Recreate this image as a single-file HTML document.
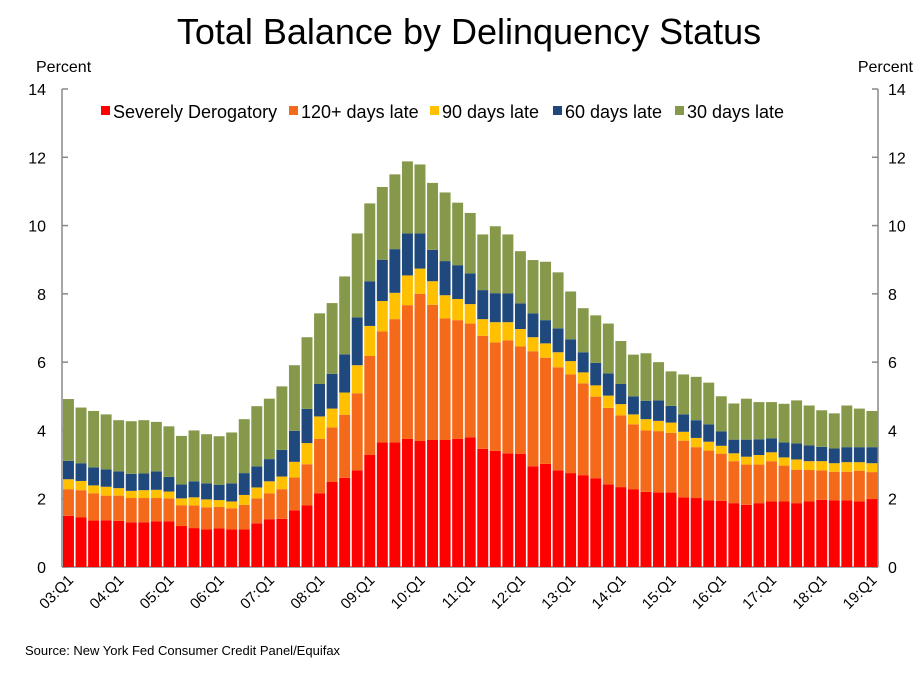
<!DOCTYPE html>
<html><head><meta charset="utf-8"><style>
body{margin:0;background:#fff;}
svg{display:block;font-family:"Liberation Sans",Arial,sans-serif;}
</style></head><body>
<svg id="chart" width="924" height="673" viewBox="0 0 924 673" xmlns="http://www.w3.org/2000/svg">
<text x="469" y="44" font-size="36" text-anchor="middle">Total Balance by Delinquency Status</text>
<text x="36" y="72" font-size="16">Percent</text>
<text x="913" y="72" font-size="16" text-anchor="end">Percent</text>
<g id="axes"></g>
<g id="bars"></g>
<g id="legend"></g>
<text x="25" y="655" font-size="13">Source: New York Fed Consumer Credit Panel/Equifax</text>
</svg>
<script>
const quarters = [];
for (let y = 3; y <= 19; y++) { for (let q = 1; q <= 4; q++) { if (y === 19 && q > 1) break; quarters.push((y<10?'0':'')+y+':Q'+q); } }
const severe = [1.50,1.45,1.36,1.37,1.35,1.31,1.31,1.34,1.34,1.20,1.14,1.10,1.13,1.10,1.10,1.28,1.40,1.41,1.66,1.81,2.16,2.49,2.61,2.83,3.28,3.65,3.65,3.75,3.69,3.72,3.72,3.75,3.80,3.46,3.40,3.33,3.31,2.95,3.02,2.83,2.75,2.69,2.60,2.42,2.34,2.28,2.20,2.18,2.18,2.04,2.02,1.95,1.94,1.87,1.82,1.87,1.92,1.92,1.87,1.92,1.97,1.95,1.95,1.92,1.99];
const late120 = [0.78,0.80,0.80,0.72,0.74,0.71,0.71,0.68,0.67,0.61,0.66,0.65,0.63,0.62,0.72,0.73,0.76,0.87,0.96,1.20,1.59,1.60,1.85,2.26,2.90,3.25,3.61,3.92,4.31,3.96,3.56,3.48,3.33,3.31,3.18,3.31,3.15,3.37,3.11,3.02,2.89,2.69,2.39,2.24,2.10,1.90,1.80,1.80,1.75,1.66,1.49,1.46,1.38,1.23,1.18,1.13,1.18,1.05,0.98,0.92,0.86,0.84,0.84,0.90,0.79];
const late90 = [0.29,0.27,0.23,0.26,0.22,0.21,0.23,0.24,0.20,0.20,0.24,0.23,0.20,0.20,0.29,0.32,0.35,0.37,0.46,0.62,0.66,0.55,0.65,0.82,0.88,0.89,0.77,0.87,0.74,0.69,0.68,0.62,0.57,0.49,0.59,0.53,0.51,0.41,0.42,0.44,0.39,0.32,0.33,0.36,0.33,0.29,0.33,0.30,0.30,0.26,0.27,0.26,0.23,0.23,0.23,0.28,0.26,0.24,0.30,0.26,0.27,0.25,0.28,0.25,0.26];
const late60 = [0.54,0.52,0.53,0.51,0.49,0.50,0.49,0.54,0.43,0.41,0.47,0.47,0.45,0.53,0.64,0.62,0.65,0.78,0.91,1.00,0.95,1.02,1.12,1.40,1.31,1.21,1.28,1.23,1.03,0.92,1.00,0.99,0.90,0.85,0.85,0.84,0.75,0.70,0.68,0.70,0.64,0.59,0.66,0.65,0.59,0.53,0.54,0.60,0.49,0.51,0.52,0.51,0.42,0.40,0.50,0.46,0.41,0.44,0.47,0.46,0.42,0.43,0.44,0.44,0.47];
const late30 = [1.81,1.63,1.65,1.61,1.50,1.54,1.56,1.45,1.48,1.42,1.49,1.44,1.42,1.49,1.58,1.76,1.77,1.86,1.92,2.10,2.07,2.07,2.28,2.46,2.28,2.13,2.19,2.11,2.02,1.96,2.01,1.83,1.77,1.63,1.96,1.73,1.53,1.56,1.71,1.64,1.40,1.29,1.39,1.46,1.26,1.22,1.39,1.12,1.01,1.17,1.27,1.22,1.03,1.06,1.20,1.09,1.06,1.13,1.26,1.17,1.07,1.03,1.22,1.13,1.06];
const yTicks = [0,2,4,6,8,10,12,14];
const seriesNames = ['Severely Derogatory','120+ days late','90 days late','60 days late','30 days late'];
const seriesColors = ['#ff0000','#f56a1a','#ffc000','#1f497d','#86994b'];
const seriesData = [severe, late120, late90, late60, late30];

const NS='http://www.w3.org/2000/svg';
const X0=62, X1=878, Y0=567, Y1=89, YMAX=14;
const n = quarters.length;
const step = (X1-X0)/n;
const yScale = v => Y0 - v/YMAX*(Y0-Y1);
const xScale = i => X0 + 1 + i*step;
function el(tag, attrs, parent){ const e=document.createElementNS(NS,tag); for(const k in attrs) e.setAttribute(k,attrs[k]); parent.appendChild(e); return e; }

const axes=document.getElementById('axes');
let a=el('line',{x1:X0,y1:Y1,x2:X0,y2:Y0,stroke:'#888','stroke-width':1.5},axes);


a=el('line',{x1:X1,y1:Y1,x2:X1,y2:Y0,stroke:'#888','stroke-width':1.5},axes);


a=el('line',{x1:X0,y1:Y0,x2:X1,y2:Y0,stroke:'#888','stroke-width':1.5},axes);


yTicks.forEach(t=>{
  const y=yScale(t);
  let tk=el('line',{x1:X0,y1:y,x2:X0+6,y2:y,stroke:'#888','stroke-width':1.5},axes);
  
  
  tk=el('line',{x1:X1-6,y1:y,x2:X1,y2:y,stroke:'#888','stroke-width':1.5},axes);
  
  
  let l=el('text',{x:46,y:y+6,'font-size':16,'text-anchor':'end'},axes); l.textContent=t;
  
  
  l=el('text',{x:888,y:y+6,'font-size':16},axes); l.textContent=t;
  
  
});
quarters.forEach((q,i)=>{
  if(i%4!==0) return;
  const cx=xScale(i)+step/2;
  const l=el('text',{x:cx+5,y:Y0+14,'font-size':15,'text-anchor':'end',transform:`rotate(-45 ${cx+5} ${Y0+14})`},axes);
  l.textContent=q;
  
  
});

const bars=document.getElementById('bars');
for(let i=0;i<n;i++){
  let base=0;
  seriesData.forEach((s,k)=>{
    const v=s[i];
    const r=el('rect',{x:xScale(i),y:yScale(base+v),width:step-1.6,height:yScale(base)-yScale(base+v),fill:seriesColors[k]},bars);
    
    
    base+=v;
  });
}

const legend=document.getElementById('legend');
const lx=[101,289,430,553,675];
seriesNames.forEach((nm,k)=>{
  const r=el('rect',{x:lx[k],y:106,width:9,height:9,fill:seriesColors[k]},legend);
  
  
  const t=el('text',{x:lx[k]+12,y:118,'font-size':18,'textLength':0},legend);
  t.removeAttribute('textLength');
  t.textContent=nm;
  
  
});
</script>
</body></html>
